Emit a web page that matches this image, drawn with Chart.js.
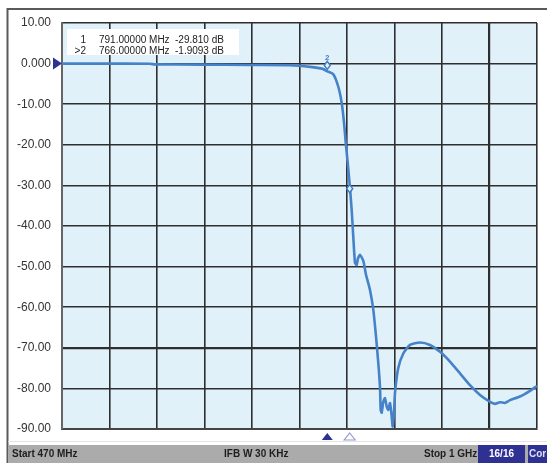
<!DOCTYPE html>
<html><head><meta charset="utf-8">
<script src="https://cdn.jsdelivr.net/npm/chart.js@4.4.0/dist/chart.umd.min.js"></script>
<style>html,body{margin:0;padding:0;background:#fff;}#wrap{width:547px;height:463px;position:relative;}</style>
</head><body><div id="wrap"><canvas id="c"></canvas></div>
<script>
// ---- data ----
const freqMHz = [470, 512, 568, 574, 624, 680, 724, 747, 761, 766, 772.7, 778.3, 782.1, 784.7, 786.6, 788.6, 791, 793.2, 795, 796.9, 798.8, 800.2, 802.5, 806.2, 809.2, 813.7, 817.4, 820.4, 822.9, 824.8, 825.6, 826.7, 828.5, 830.4, 832.3, 834.1, 836, 837.9, 839, 840.4, 841.6, 845.2, 850.8, 858.3, 869.5, 880.6, 891.8, 902.9, 914.1, 925.2, 936.4, 947.6, 953, 958.7, 964, 969.9, 981, 992.2, 1000];
const s21dB   = [0.0, 0.0, -0.05, -0.2, -0.25, -0.35, -0.4, -0.8, -1.3, -1.9, -2.6, -5.7, -9.7, -14.6, -19.5, -24, -29.81, -36, -42.6, -49, -49.6, -48, -47.1, -48.6, -52, -55.8, -60.7, -67.3, -73.7, -79.6, -85.3, -86, -83.3, -82.4, -84.5, -85.3, -83.6, -87, -89.4, -86, -81, -75, -71.4, -69.3, -68.7, -69.3, -71, -73.4, -76.3, -79.2, -81.6, -83.3, -83.8, -83.4, -83.6, -82.9, -82, -80.6, -79.4];
const xTicks = [470, 523, 576, 629, 682, 735, 788, 841, 894, 947, 1000];
const yTicks = [10, 0, -10, -20, -30, -40, -50, -60, -70, -80, -90];
const markerNames = ['1', '2'];
const markerFreq = [791, 766];
const markerDb = [-29.81, -1.9093];
const tableCol1 = ['1', '>2'];
const tableCol2 = ['791.00000 MHz', '766.00000 MHz'];
const tableCol3 = ['-29.810 dB', '-1.9093 dB'];
const statusStart = 'Start 470 MHz';
const statusIfbw = 'IFB W 30 KHz';
const statusStop = 'Stop 1 GHz';
const statusCount = '16/16';
const statusCor = 'Cor';

const points = freqMHz.map((f, i) => ({x: f, y: s21dB[i]}));
const NAVY = '#2e3192';

const deco = {
  id: 'deco',
  beforeDraw(chart) {
    const {ctx, chartArea: a} = chart;
    ctx.save();
    ctx.fillStyle = '#e1f1fa';
    ctx.fillRect(a.left, a.top, a.right - a.left, a.bottom - a.top);
    ctx.restore();
  },
  afterDatasetsDraw(chart) {
    const {ctx, scales: {x, y}, chartArea: a} = chart;
    ctx.save();
    // markers on trace
    markerFreq.forEach((f, i) => {
      const px = x.getPixelForValue(f), py = y.getPixelForValue(markerDb[i]);
      ctx.strokeStyle = '#3f7cc4'; ctx.lineWidth = 1.5; ctx.fillStyle = '#e1f1fa';
      const cy = i === 1 ? py - 6 : py + 4;
      ctx.beginPath();
      ctx.moveTo(px, cy - 4); ctx.lineTo(px + 3, cy); ctx.lineTo(px, cy + 4); ctx.lineTo(px - 3, cy); ctx.closePath();
      ctx.fill(); ctx.stroke();
      if (i === 1) {
        ctx.fillStyle = '#3f7cc4'; ctx.font = 'bold 8px "Liberation Sans"';
        ctx.textAlign = 'center'; ctx.textBaseline = 'bottom';
        ctx.fillText(markerNames[i], px, cy - 4);
      }
    });
    // bottom marker triangles
    markerFreq.forEach((f, i) => {
      const px = x.getPixelForValue(f);
      const t = a.bottom + 4;
      ctx.beginPath();
      ctx.moveTo(px, t); ctx.lineTo(px + 5.5, t + 7); ctx.lineTo(px - 5.5, t + 7); ctx.closePath();
      if (i === 1) { ctx.fillStyle = NAVY; ctx.fill(); }
      else { ctx.strokeStyle = '#9a9ad6'; ctx.lineWidth = 1.2; ctx.stroke(); }
    });
    // reference triangle at 0 dB
    const ry = y.getPixelForValue(0);
    ctx.fillStyle = NAVY;
    ctx.beginPath();
    ctx.moveTo(a.left - 9, ry - 6); ctx.lineTo(a.left, ry); ctx.lineTo(a.left - 9, ry + 6); ctx.closePath();
    ctx.fill();
    // marker table
    ctx.fillStyle = '#ffffff';
    ctx.fillRect(67, 29, 172, 26);
    ctx.fillStyle = '#222';
    ctx.font = '10px "Liberation Sans"';
    ctx.textBaseline = 'middle';
    [40, 51].forEach((ty, i) => {
      ctx.textAlign = 'right'; ctx.fillText(tableCol1[i], 86, ty);
      ctx.textAlign = 'left'; ctx.fillText(tableCol2[i], 99, ty);
      ctx.fillText(tableCol3[i], 175, ty);
    });
    ctx.restore();
  },
  afterDraw(chart) {
    const {ctx} = chart;
    ctx.save();
    // frame lines
    ctx.strokeStyle = '#5a5a5a'; ctx.lineWidth = 2;
    ctx.beginPath(); ctx.moveTo(7, 9); ctx.lineTo(547, 9); ctx.stroke();
    ctx.beginPath(); ctx.moveTo(7.5, 8); ctx.lineTo(7.5, 463); ctx.stroke();
    ctx.strokeStyle = '#e4e4e4'; ctx.lineWidth = 1;
    ctx.beginPath(); ctx.moveTo(8, 441.5); ctx.lineTo(547, 441.5); ctx.stroke();
    // status bar
    ctx.fillStyle = '#ababab';
    ctx.fillRect(8.5, 445, 539, 18);
    ctx.fillStyle = NAVY;
    ctx.fillRect(478, 445, 47, 18);
    ctx.fillRect(528, 445, 19, 18);
    ctx.font = 'bold 10px "Liberation Sans"';
    ctx.textBaseline = 'middle';
    ctx.fillStyle = '#1e1e1e';
    ctx.textAlign = 'left'; ctx.fillText(statusStart, 12, 454.5);
    ctx.fillText(statusIfbw, 224, 454.5);
    ctx.fillText(statusStop, 424, 454.5);
    ctx.fillStyle = '#ffffff'; ctx.textAlign = 'center';
    ctx.fillText(statusCount, 501.5, 454.5);
    ctx.fillStyle = '#dfe0f5'; ctx.textAlign = 'left';
    ctx.fillText(statusCor, 529, 454.5);
    ctx.restore();
  }
};

new Chart(document.getElementById('c'), {
  type: 'line',
  data: {datasets: [{data: points, borderColor: '#4682c8', borderWidth: 2.6, pointRadius: 0, tension: 0.2, fill: false}]},
  options: {
    responsive: true, maintainAspectRatio: false, animation: false,
    layout: {padding: {top: 23, right: 10, bottom: 34, left: 0}},
    plugins: {legend: {display: false}, tooltip: {enabled: false}},
    scales: {
      x: {
        type: 'linear', min: 470, max: 1000,
        afterBuildTicks: s => { s.ticks = xTicks.map(v => ({value: v})); },
        afterFit: s => { s.height = 0; },
        ticks: {display: false},
        grid: {color: '#2e2e2e', lineWidth: c => (c.tick && c.tick.value === 947 ? 2.2 : 1.6), drawTicks: false},
        border: {display: true, color: '#444', width: 2}
      },
      y: {
        type: 'linear', min: -90, max: 10,
        afterBuildTicks: s => { s.ticks = yTicks.map(v => ({value: v})); },
        afterFit: s => { s.width = 62; },
        ticks: {padding: 11, color: '#333', font: {family: 'Liberation Sans', size: 12},
          callback: v => (v === 0 ? '0.000' : v.toFixed(2))},
        grid: {color: '#2e2e2e', lineWidth: c => (c.tick && c.tick.value === -70 ? 2.2 : 1.6), drawTicks: false},
        border: {display: true, color: '#666', width: 2}
      }
    }
  },
  plugins: [deco]
});
</script>
</body></html>
